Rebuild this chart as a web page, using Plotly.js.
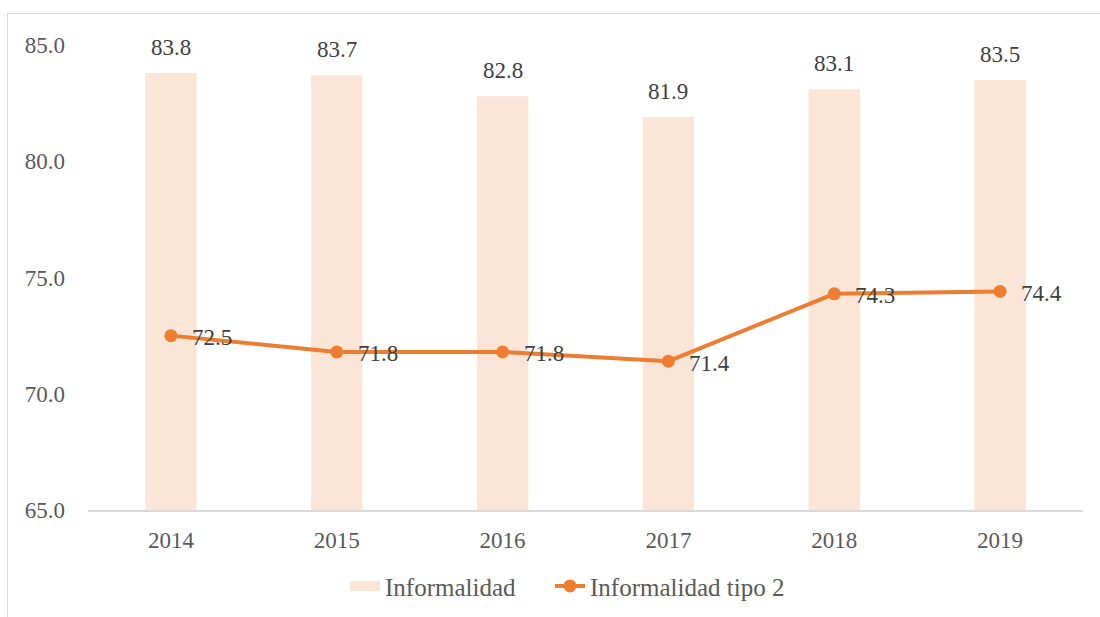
<!DOCTYPE html>
<html>
<head>
<meta charset="utf-8">
<script src="https://cdn.plot.ly/plotly-3.0.1.min.js"></script>
<style>
html,body{margin:0;padding:0;background:#fff;}
#wrap{position:relative;width:1100px;height:617px;overflow:hidden;}
#chart{width:1100px;height:617px;}
#frame{position:absolute;left:7px;top:13px;width:1200px;height:700px;border-left:1px solid #D9D9D9;border-top:1px solid #D9D9D9;pointer-events:none;}
</style>
</head>
<body>
<div id="wrap"><div id="chart"></div><div id="frame"></div></div>
<script>
const years = [2014, 2015, 2016, 2017, 2018, 2019];
const informalidad = [83.8, 83.7, 82.8, 81.9, 83.1, 83.5];
const informalidadTipo2 = [72.5, 71.8, 71.8, 71.4, 74.3, 74.4];
const tickVals = [65, 70, 75, 80, 85];

const font = {family: "'Liberation Serif', 'Times New Roman', serif", size: 23, color: "#595959"};
const labelFont = {family: "'Liberation Serif', 'Times New Roman', serif", size: 23, color: "#404040"};
const legendFont = {family: "'Liberation Serif', 'Times New Roman', serif", size: 25, color: "#595959"};

const traces = [
  {
    type: "bar", name: "Informalidad", x: years, y: informalidad,
    marker: {color: "#FBE5D6"}, width: 0.31, showlegend: false
  },
  {
    type: "scatter", mode: "lines", name: "Informalidad", x: [null], y: [null],
    line: {color: "#FBE5D6", width: 12}, showlegend: true, legend: "legend"
  },
  {
    type: "scatter", mode: "lines+markers", name: "Informalidad tipo 2",
    x: years, y: informalidadTipo2, legend: "legend2",
    line: {color: "#ED7D31", width: 4}, marker: {color: "#ED7D31", size: 13}
  }
];

const annotations = [];
years.forEach((yr, i) => {
  annotations.push({x: yr, y: informalidad[i], xref: "x", yref: "y", text: informalidad[i].toFixed(1), showarrow: false,
    xanchor: "center", yanchor: "bottom", yshift: 11, font: labelFont});
  annotations.push({x: yr, y: informalidadTipo2[i], xref: "x", yref: "y", text: informalidadTipo2[i].toFixed(1), showarrow: false,
    xanchor: "left", yanchor: "middle", xshift: 19, yshift: -2, font: labelFont});
});

const legendBase = {orientation: "h", xref: "container", yref: "container", xanchor: "left",
  y: 0.05, yanchor: "middle", font: legendFont, bgcolor: "rgba(0,0,0,0)"};

const layout = {
  width: 1100, height: 617,
  margin: {l: 88, r: 17, t: 45, b: 107},
  paper_bgcolor: "#ffffff", plot_bgcolor: "#ffffff",
  font: font,
  showlegend: true,
  legend: Object.assign({}, legendBase, {x: 345 / 1100}),
  legend2: Object.assign({}, legendBase, {x: 550 / 1100}),
  xaxis: {
    type: "linear", range: [2013.5, 2019.5], tickvals: years, ticktext: years.map(String),
    showline: true, linecolor: "#D9D9D9", linewidth: 2,
    showgrid: false, ticks: "", ticklabelstandoff: 8, tickfont: font, zeroline: false
  },
  yaxis: {
    range: [65, 85], tickvals: tickVals, ticktext: tickVals.map(v => v.toFixed(1)),
    showgrid: false, showline: false, zeroline: false, ticks: "",
    ticklabelstandoff: 22, tickfont: font
  },
  annotations: annotations
};

Plotly.newPlot("chart", traces, layout, {displayModeBar: false, staticPlot: true});
</script>
</body>
</html>
